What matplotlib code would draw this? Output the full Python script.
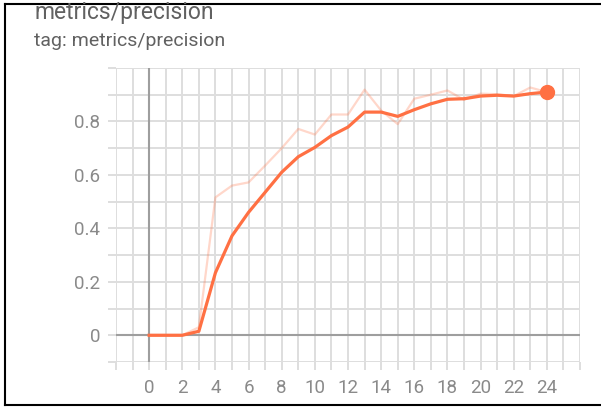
import matplotlib
matplotlib.use("Agg")
import matplotlib.pyplot as plt
from matplotlib.lines import Line2D
import numpy as np

# scalar run
steps = list(range(25))
raw = [0.0, 0.0, 0.0, 0.03, 0.516, 0.56, 0.572, 0.635, 0.70, 0.772,
       0.751, 0.826, 0.826, 0.919, 0.841, 0.79, 0.885, 0.90, 0.916, 0.881,
       0.904, 0.902, 0.895, 0.927, 0.91]
smoothed = [0.0, 0.0, 0.0, 0.015, 0.234, 0.372, 0.46, 0.535, 0.61, 0.668,
            0.703, 0.747, 0.779, 0.835, 0.835, 0.819, 0.844, 0.866, 0.883, 0.885,
            0.895, 0.898, 0.895, 0.904, 0.91]
title = "metrics/precision"
subtitle = "tag: metrics/precision"

orange = "#ff7043"
grid_c = "#dedede"
zero_c = "#9e9e9e"
text_c = "#8a8a8a"

plt.rcParams['font.family'] = ['Roboto', 'DejaVu Sans']

fig = plt.figure(figsize=(6.01, 4.07), dpi=100)
ax = fig.add_axes([116 / 601, 1 - 362 / 407, 464 / 601, 294 / 407])

ax.set_xlim(-2, 26)
ax.set_ylim(-0.1, 1.0)

xt = np.arange(-2, 27, 1)
yt = np.round(np.arange(-0.1, 1.01, 0.1), 1)
ax.set_xticks(xt)
ax.set_xticklabels([str(int(v)) if (v >= 0 and v % 2 == 0 and v <= 24) else "" for v in xt])
ax.set_yticks(yt)
ax.set_yticklabels(["0" if v == 0 else (f"{v:.1f}" if (v > 0 and round(v * 10) % 2 == 0 and v < 1) else "") for v in yt])

ax.grid(True, color=grid_c, lw=1.4)
ax.tick_params(length=5.5, width=1.4, color=grid_c, labelcolor=text_c, labelsize=13.5)
ax.tick_params(axis="y", pad=6)
ax.tick_params(axis="x", pad=7)
for s in ax.spines.values():
    s.set_visible(False)

ax.axvline(0, color=zero_c, lw=1.5, zorder=2)
ax.axhline(0, color=zero_c, lw=1.5, zorder=2)

ax.plot(steps, raw, color=orange, alpha=0.28, lw=1.6, zorder=3)
ax.plot(steps, smoothed, color=orange, lw=2.3, zorder=4)
ax.plot(steps[-1], smoothed[-1], "o", color=orange, ms=10, zorder=5)

fig.text(34 / 601, 1 - 13 / 407, title, fontsize=16.5, color="#616161", va="center")
fig.text(34 / 601, 1 - 41 / 407, subtitle, fontsize=14, color="#616161", va="center")

# card border
fig.add_artist(Line2D([5 / 601, 1], [1 - 4 / 407] * 2, color="black", lw=1.5, transform=fig.transFigure))
fig.add_artist(Line2D([5 / 601] * 2, [1 - 4 / 407, 1 - 405 / 407], color="black", lw=1.5, transform=fig.transFigure))
fig.add_artist(Line2D([5 / 601, 1], [1 - 405 / 407] * 2, color="black", lw=1.5, transform=fig.transFigure))

fig.savefig("out.png", dpi=100)
